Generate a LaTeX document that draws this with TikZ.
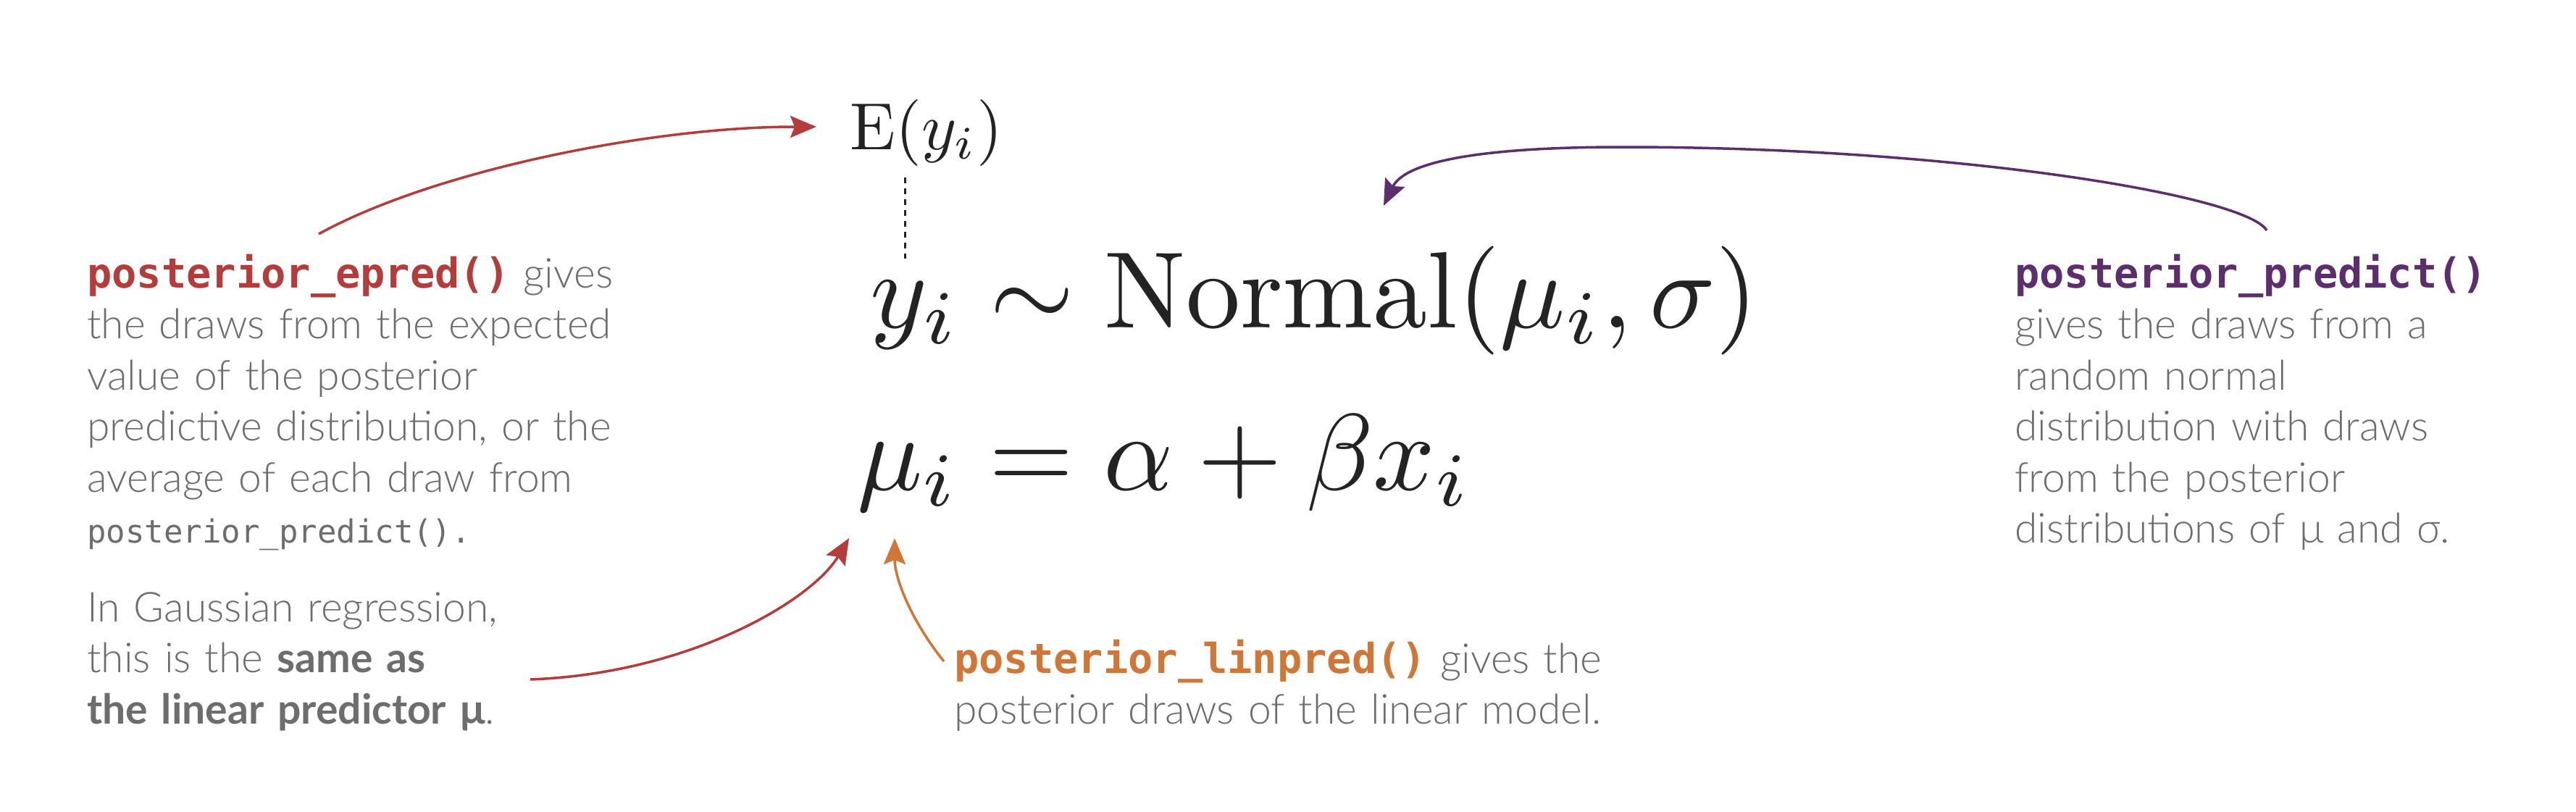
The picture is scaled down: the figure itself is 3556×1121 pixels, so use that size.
\documentclass[tikz,border=0pt]{standalone}
\usepackage{fontspec}
\newfontfamily\bodyfont{Lato}[UprightFont=* Light, BoldFont=* Bold]
\newfontfamily\codefont{DejaVu Sans Mono}
\usetikzlibrary{arrows.meta}
\definecolor{redc}{HTML}{B43C3A}
\definecolor{orangec}{HTML}{D07636}
\definecolor{purplec}{HTML}{5C2E6E}
\definecolor{txtgray}{HTML}{6D6D6D}
\definecolor{mathblack}{HTML}{232323}
\newcommand{\codeb}[2]{{\codefont\bfseries\color{#1}#2}}
\newcommand{\codes}[1]{{\codefont\fontsize{44}{70.5}\selectfont #1}}
\tikzset{
  body/.style={inner sep=0pt, anchor=base west, align=left,
    font=\bodyfont\fontsize{57}{70.5}\selectfont, text=txtgray},
  eq/.style={inner sep=0pt, anchor=base west, text=mathblack, font=\fontsize{10}{12}\selectfont},
  conn/.style={line width=3.5pt, -{Stealth[length=36pt,width=30pt,inset=6pt]}},
  dotline/.style={line width=3pt, mathblack, dash pattern=on 8pt off 7pt},
}
\begin{document}
\begin{tikzpicture}[x=1pt,y=-1pt]
\useasboundingbox[fill=white] (0,0) rectangle (3556,1121);

% equations
\node[eq, scale=9.2] (E) at (1172,206) {$\mathrm{E}(y_i)$};
\node[eq, scale=15] (l1) at (1198,452) {$y_i \sim \mathrm{Normal}(\mu_i, \sigma)$};
\node[eq, scale=15] (l2) at (1180,676) {$\mu_i = \alpha + \beta x_i$};

% texts
\node[body, text width=820pt] (epred) at (120,397) {\codeb{redc}{posterior\_epred()} gives\\
the draws from the expected\\
value of the posterior\\
predictive distribution, or the\\
average of each draw from\\
\codes{posterior\_predict().}};

\node[body, text width=700pt] (gauss) at (120,858) {In Gaussian regression,\\
this is the \textbf{same as}\\
\textbf{the linear predictor μ}.};

\node[body, text width=720pt] (pred) at (2781,397) {\codeb{purplec}{posterior\_predict()}\\
gives the draws from a\\
random normal\\
distribution with draws\\
from the posterior\\
distributions of μ and σ.};

\node[body, text width=950pt] (lin) at (1317,929) {\codeb{orangec}{posterior\_linpred()} gives the\\
posterior draws of the linear model.};

% connector end points
\coordinate (epredTail) at (440,323);
\coordinate (Etip) at (1127,175);
\coordinate (gaussTail) at (732,938);
\coordinate (muTipR) at (1172,743);
\coordinate (linTail) at (1303,913);
\coordinate (muTipO) at (1235,743);
\coordinate (predTail) at (3129,318);
\coordinate (predPeak) at (2240,203);
\coordinate (normTip) at (1910,284);
\coordinate (dtop) at (1249,245);
\coordinate (dbot) at (1249,357);

% connectors
\draw[dotline] (dtop) -- (dbot);
\draw[conn, redc] (epredTail) .. controls (600,235) and (900,175) .. (Etip);
\draw[conn, redc] (gaussTail) .. controls (950,930) and (1120,830) .. (muTipR);
\draw[conn, orangec] (linTail) .. controls (1260,860) and (1235,800) .. (muTipO);
\draw[conn, purplec] (predTail) .. controls (3100,270) and (2700,203) .. (predPeak)
   .. controls (2050,203) and (1940,222) .. (normTip);
\end{tikzpicture}
\end{document}
